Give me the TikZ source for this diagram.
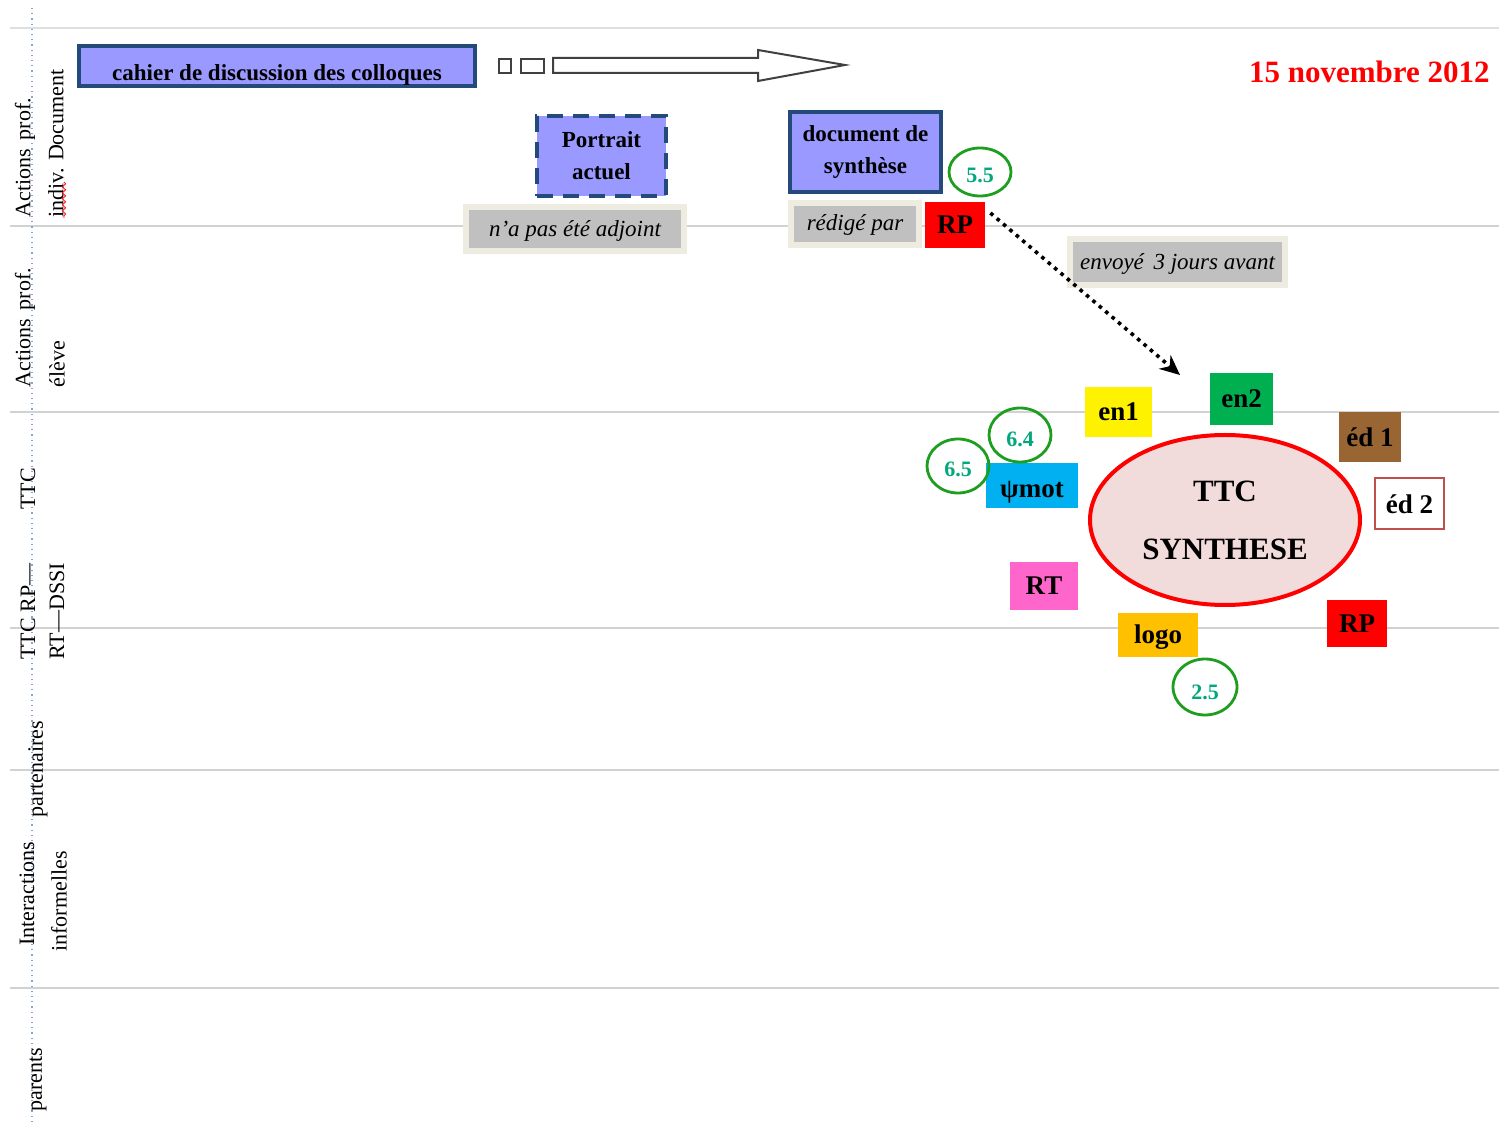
\documentclass[tikz,border=0pt]{standalone}
\usepackage{fontspec}
\setmainfont{Liberation Serif}
\usetikzlibrary{shapes.geometric,arrows.meta,decorations.pathmorphing}

\definecolor{lavender}{HTML}{9999FF}
\definecolor{navy}{HTML}{244A7B}
\definecolor{beige}{HTML}{EEECE1}
\definecolor{silver}{HTML}{C0C0C0}
\definecolor{lanegray}{HTML}{D2D2D2}
\definecolor{rose}{HTML}{F2DCDB}
\definecolor{ringgreen}{HTML}{1E9E1E}
\definecolor{numgreen}{HTML}{00A87C}
\definecolor{engreen}{HTML}{00B050}
\definecolor{brown}{HTML}{996633}
\definecolor{brick}{HTML}{C0504D}
\definecolor{sky}{HTML}{00B0F0}
\definecolor{pink}{HTML}{FF66CC}
\definecolor{amber}{HTML}{FFC000}
\definecolor{pale}{HTML}{7FA7DC}

% baseline below the node centre
\newcommand{\low}[2]{\raisebox{-#1}[0pt][0pt]{#2}}

\tikzset{
  lane/.style={lanegray, line width=1pt},
  lanelabel/.style={rotate=90, anchor=west, inner sep=0pt, font=\fontsize{11}{12}\selectfont},
  doc/.style={draw=navy, line width=2pt, fill=lavender, align=center, inner sep=0pt,
    font=\bfseries\fontsize{11.5}{16}\selectfont},
  note/.style={draw=beige, line width=3.2pt, fill=silver, inner sep=0pt,
    font=\itshape\fontsize{11.5}{13}\selectfont},
  tag/.style={fill=#1, inner sep=0pt, minimum width=30pt, minimum height=23pt,
    font=\bfseries\fontsize{13.5}{15}\selectfont},
  ring/.style={draw=ringgreen, line width=1.4pt, ellipse, inner sep=0pt,
    minimum width=31pt, minimum height=26pt, text=numgreen,
    font=\bfseries\fontsize{11}{12}\selectfont}
}

\begin{document}
\begin{tikzpicture}[x=0.5pt, y=-0.5pt]
  \useasboundingbox (0,0) rectangle (1499,1122);

  % lanes
  \draw[lanegray!70, line width=0.8pt] (10,28) -- (1499,28);
  \foreach \y in {226,412,628,770,988}
    \draw[lane] (10,\y) -- (1499,\y);
  \draw[pale, dotted, line width=0.6pt] (32,8) -- (32,1122);

  \node[lanelabel] (l1a) at (25,218) {Actions\, prof.};
  \node[lanelabel] (l1b) at (56,218) {indiv. Document};
  \draw[red, line width=0.4pt, decorate, decoration={snake, amplitude=0.8pt, segment length=3pt}]
    (64,182) -- (64,218);
  \node[lanelabel] (l2a) at (25,388) {Actions\, prof.};
  \node[lanelabel] (l2b) at (57,388) {élève};
  \node[lanelabel] (l3) at (28,510) {TTC};
  \node[lanelabel] (l4a) at (28,660) {TTC RP—};
  \node[lanelabel] (l4b) at (57,660) {RT—DSSI};
  \node[lanelabel] (l5a) at (38,818) {partenaires};
  \node[lanelabel] (l5b) at (27,946) {Interactions};
  \node[lanelabel] (l5c) at (59,952) {informelles};
  \node[lanelabel] (l6) at (38,1112) {parents};

  % documents
  \node[doc, minimum width=198pt, minimum height=20pt] (cahier) at (277,66)
    {\low{7.5pt}{cahier de discussion des colloques}};
  \draw[black!75, line width=1pt] (499,59) rectangle (511,73);
  \draw[black!75, line width=1pt] (521,59) rectangle (544,73);
  \draw[black!75, line width=1pt, fill=white]
    (553,58) -- (758,58) -- (758,50) -- (845,65) -- (758,81) -- (758,73) -- (553,73) -- cycle;

  \node[doc, dash pattern=on 8pt off 5pt, minimum width=64.5pt, minimum height=40pt]
    (portrait) at (601.5,156) {Portrait\\actuel};
  \node[note, minimum width=108.75pt, minimum height=21.75pt] (adjoint) at (575,229)
    {\low{4pt}{n'a pas été adjoint}};

  \node[doc, minimum width=75.5pt, minimum height=40pt] (synthese) at (865.5,152)
    {document de\\synthèse};
  \node[note, minimum width=63.75pt, minimum height=20.75pt] (redige) at (855,224)
    {\low{3.5pt}{rédigé par}};
  \node[tag=red] (rpdoc) at (955,225) {RP};
  \node[ring, minimum width=31pt, minimum height=24pt] (r55) at (980,172)
    {\low{5.5pt}{5.5}};

  \node[note, minimum width=107.25pt, minimum height=22.75pt] (envoi) at (1177.5,262)
    {\low{4pt}{envoyé\, 3 jours avant}};
  \node[anchor=east, inner sep=0pt, text=red, font=\bfseries\fontsize{15.5}{17}\selectfont]
    (date) at (1490,72) {15 novembre 2012};

  \coordinate (cible) at (1180,375);
  \draw[line width=1.8pt, dash pattern=on 1.8pt off 2.4pt, -{Stealth[length=10pt, width=9pt]}]
    ([shift={(5,-12)}]rpdoc.east) -- (cible);

  % TTC synthese
  \node[ellipse, draw=red, line width=2pt, fill=rose, inner sep=0pt,
    minimum width=135pt, minimum height=85pt, align=center,
    font=\bfseries\fontsize{15.5}{29}\selectfont] (ttc) at (1225,520) {TTC\\SYNTHESE};

  \node[tag=yellow, minimum width=33.5pt, minimum height=25pt] (en1) at (1118.5,412) {en1};
  \node[tag=engreen, minimum width=31.5pt, minimum height=26pt] (en2) at (1241.5,399) {en2};
  \node[tag=brown, minimum width=31pt, minimum height=25pt] (ed1) at (1370,437) {éd 1};
  \node[tag=white, draw=brick, line width=1pt, minimum width=34.5pt, minimum height=25.5pt]
    (ed2) at (1409.5,504) {éd 2};
  \node[tag=sky, minimum width=46pt, minimum height=22.5pt] (psimot) at (1032,485.5)
    {\low{6pt}{ψmot}};
  \node[tag=pink, minimum width=34pt, minimum height=24pt] (rt) at (1044,586) {RT};
  \node[tag=amber, minimum width=40pt, minimum height=22pt] (logo) at (1158,635)
    {\low{4pt}{logo}};
  \node[tag=red, minimum width=30pt, minimum height=23.5pt] (rpttc) at (1357,623.5) {RP};

  \node[ring, minimum height=27pt] (r64) at (1020,435) {\low{6pt}{6.4}};
  \node[ring, minimum height=27pt] (r65) at (958,466) {\low{5.5pt}{6.5}};
  \node[ring, minimum width=32pt, minimum height=28pt] (r25) at (1205,687) {\low{6pt}{2.5}};
\end{tikzpicture}
\end{document}
